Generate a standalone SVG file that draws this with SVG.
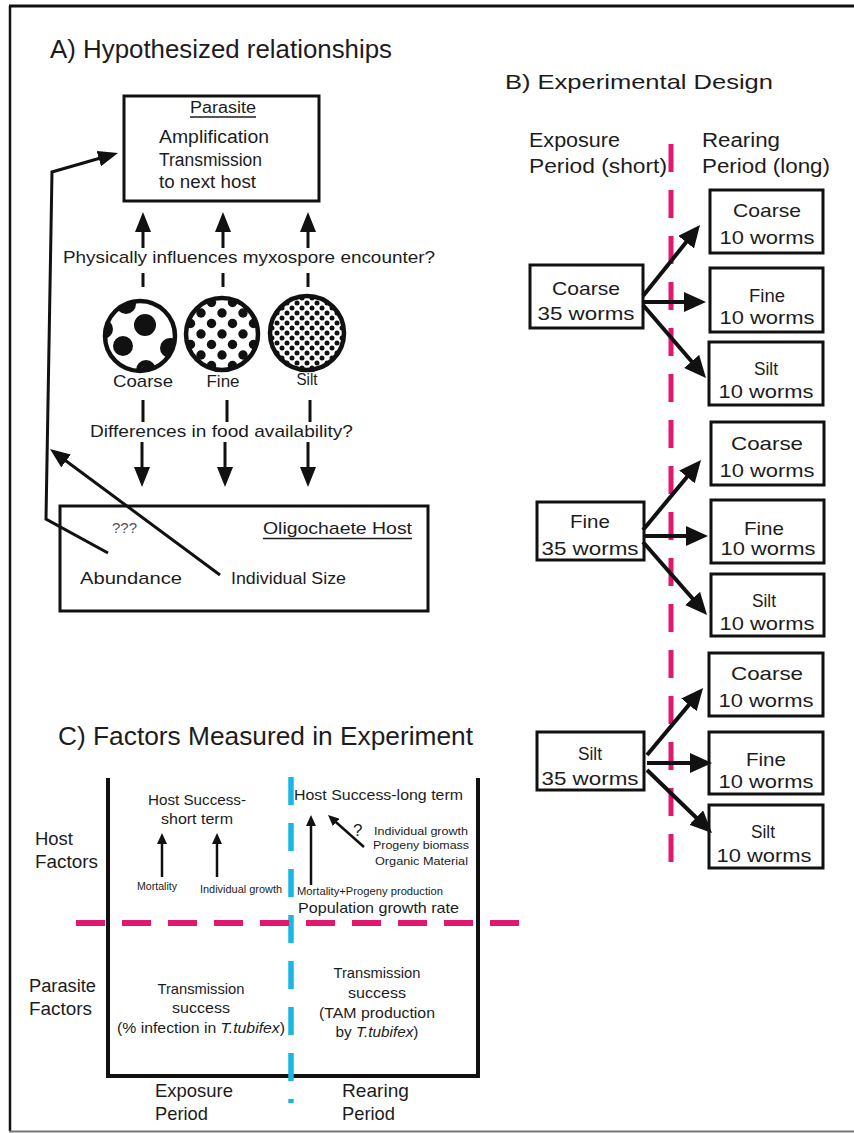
<svg xmlns="http://www.w3.org/2000/svg" width="854" height="1133" viewBox="0 0 854 1133">
<style>
.t{font-family:"Liberation Sans",Arial,sans-serif;fill:#1c1c1c}
.m{text-anchor:middle}
.box{fill:#fff;stroke:#111;stroke-width:3}
.a3{stroke:#111;stroke-width:3;fill:none}
.a4{stroke:#111;stroke-width:4;fill:none}
.a2{stroke:#111;stroke-width:2.5;fill:none}
.ul{stroke:#1c1c1c;stroke-width:1.5}
</style>
<defs>
<marker id="hA" markerUnits="userSpaceOnUse" markerWidth="20" markerHeight="16" refX="10" refY="8" orient="auto"><path d="M0,0 L20,8 L0,16 z" fill="#111"/></marker>
<marker id="hB" markerUnits="userSpaceOnUse" markerWidth="22" markerHeight="20" refX="11" refY="10" orient="auto"><path d="M0,0 L22,10 L0,20 z" fill="#111"/></marker>
<marker id="hC" markerUnits="userSpaceOnUse" markerWidth="11" markerHeight="10" refX="5.5" refY="5" orient="auto"><path d="M0,0 L11,5 L0,10 z" fill="#111"/></marker>
<pattern id="pFine" patternUnits="userSpaceOnUse" x="222" y="334" width="21" height="21"><circle cx="0" cy="0" r="4.7" fill="#111"/><circle cx="21" cy="0" r="4.7" fill="#111"/><circle cx="0" cy="21" r="4.7" fill="#111"/><circle cx="21" cy="21" r="4.7" fill="#111"/><circle cx="10.5" cy="10.5" r="4.7" fill="#111"/></pattern>
<pattern id="pSilt" patternUnits="userSpaceOnUse" x="307" y="333" width="10" height="10"><circle cx="0" cy="0" r="2.5" fill="#111"/><circle cx="10" cy="0" r="2.5" fill="#111"/><circle cx="0" cy="10" r="2.5" fill="#111"/><circle cx="10" cy="10" r="2.5" fill="#111"/><circle cx="5" cy="5" r="2.5" fill="#111"/></pattern>
<clipPath id="cCoarse"><circle cx="140" cy="336" r="35"/></clipPath>
</defs>

<g id="frame">
<line x1="9" y1="6" x2="854" y2="6" stroke="#111" stroke-width="3"/>
<line x1="10" y1="6" x2="10" y2="1131" stroke="#111" stroke-width="2.5"/>
<line x1="9" y1="1131.5" x2="854" y2="1131.5" stroke="#777" stroke-width="2"/>
</g>

<!-- Panel A -->
<g id="titleA"><text class="t" x="50" y="58" font-size="26" textLength="342" lengthAdjust="spacingAndGlyphs">A) Hypothesized relationships</text></g>

<g id="parasite">
<rect class="box" x="124" y="96" width="195" height="105"/>
<text class="t m" x="223" y="113" font-size="16" textLength="66" lengthAdjust="spacingAndGlyphs">Parasite</text>
<line class="ul" x1="190" y1="117" x2="256" y2="117"/>
<text class="t" x="159" y="143" font-size="18" textLength="110" lengthAdjust="spacingAndGlyphs">Amplification</text>
<text class="t" x="159" y="166" font-size="18" textLength="103" lengthAdjust="spacingAndGlyphs">Transmission</text>
<text class="t" x="159" y="188" font-size="18" textLength="97" lengthAdjust="spacingAndGlyphs">to next host</text>
</g>

<g id="q1"><text class="t" x="63" y="263" font-size="17" textLength="372" lengthAdjust="spacingAndGlyphs">Physically influences myxospore encounter?</text></g>

<g id="coarse">
<g clip-path="url(#cCoarse)" fill="#111">
<circle cx="145" cy="325" r="11"/>
<circle cx="123" cy="346" r="10"/>
<circle cx="170" cy="348" r="10"/>
<circle cx="146" cy="370" r="10"/>
<circle cx="126" cy="304" r="10"/>
<circle cx="103" cy="329" r="10"/>
<circle cx="167" cy="304" r="6"/>
</g>
<circle cx="140" cy="336" r="35" fill="none" stroke="#111" stroke-width="4.5"/>
<text class="t m" x="143" y="387" font-size="17" textLength="60" lengthAdjust="spacingAndGlyphs">Coarse</text>
</g>

<g id="fine">
<circle cx="222" cy="334" r="36" fill="url(#pFine)" stroke="#111" stroke-width="4.5"/>
<text class="t m" x="223" y="387" font-size="17" textLength="33" lengthAdjust="spacingAndGlyphs">Fine</text>
</g>

<g id="silt">
<circle cx="307" cy="333" r="37" fill="url(#pSilt)" stroke="#111" stroke-width="4.5"/>
<text class="t m" x="307" y="385" font-size="17" textLength="21" lengthAdjust="spacingAndGlyphs">Silt</text>
</g>

<g id="q2"><text class="t" x="90" y="437" font-size="17" textLength="263" lengthAdjust="spacingAndGlyphs">Differences in food availability?</text></g>

<g id="host">
<rect class="box" x="60" y="506" width="368" height="105"/>
<text class="t" x="112" y="533" font-size="14" fill="#555" style="fill:#555" textLength="25" lengthAdjust="spacingAndGlyphs">???</text>
<text class="t" x="263" y="534" font-size="17" textLength="149" lengthAdjust="spacingAndGlyphs">Oligochaete Host</text>
<line class="ul" x1="263" y1="538.5" x2="412" y2="538.5"/>
<text class="t" x="80" y="584" font-size="17" textLength="102" lengthAdjust="spacingAndGlyphs">Abundance</text>
<text class="t" x="231" y="584" font-size="17" textLength="115" lengthAdjust="spacingAndGlyphs">Individual Size</text>
</g>

<g id="connectorsA">
<line class="a3" x1="143" y1="248" x2="143" y2="222" marker-end="url(#hA)"/>
<line class="a3" x1="223" y1="248" x2="223" y2="222" marker-end="url(#hA)"/>
<line class="a3" x1="308" y1="248" x2="308" y2="222" marker-end="url(#hA)"/>
<line class="a3" x1="143" y1="273" x2="143" y2="287"/>
<line class="a3" x1="223" y1="273" x2="223" y2="287"/>
<line class="a3" x1="308" y1="273" x2="308" y2="287"/>
<line class="a3" x1="143" y1="400" x2="143" y2="422"/>
<line class="a3" x1="227" y1="400" x2="227" y2="422"/>
<line class="a3" x1="310" y1="400" x2="310" y2="422"/>
<line class="a3" x1="142" y1="442" x2="142" y2="477" marker-end="url(#hA)"/>
<line class="a3" x1="225" y1="442" x2="225" y2="477" marker-end="url(#hA)"/>
<line class="a3" x1="308" y1="442" x2="308" y2="477" marker-end="url(#hA)"/>
<polyline class="a3" points="108,553 46,519 52,172 108.4,155.8" marker-end="url(#hA)"/>
<line class="a3" x1="220" y1="575" x2="58" y2="455" marker-end="url(#hA)"/>
</g>

<!-- Panel B -->
<g id="titleB">
<text class="t" x="505" y="89" font-size="21" textLength="268" lengthAdjust="spacingAndGlyphs">B) Experimental Design</text>
<text class="t" x="529" y="147" font-size="20" textLength="91" lengthAdjust="spacingAndGlyphs">Exposure</text>
<text class="t" x="529" y="173" font-size="20" textLength="138" lengthAdjust="spacingAndGlyphs">Period (short)</text>
<text class="t" x="702" y="147" font-size="20" textLength="78" lengthAdjust="spacingAndGlyphs">Rearing</text>
<text class="t" x="702" y="173" font-size="20" textLength="128" lengthAdjust="spacingAndGlyphs">Period (long)</text>
</g>

<g id="dividerB"><line x1="671" y1="144" x2="671" y2="862" stroke="#e0186e" stroke-width="5" stroke-dasharray="28 18"/></g>

<g id="expCoarse">
<rect class="box" x="530" y="265" width="113" height="63"/>
<text class="t m" x="586" y="295" font-size="19" textLength="68" lengthAdjust="spacingAndGlyphs">Coarse</text>
<text class="t m" x="586" y="320" font-size="19" textLength="97" lengthAdjust="spacingAndGlyphs">35 worms</text>
</g>
<g id="expFine">
<rect class="box" x="537" y="502" width="107" height="58"/>
<text class="t m" x="590" y="528" font-size="19" textLength="40" lengthAdjust="spacingAndGlyphs">Fine</text>
<text class="t m" x="590" y="555" font-size="19" textLength="97" lengthAdjust="spacingAndGlyphs">35 worms</text>
</g>
<g id="expSilt">
<rect class="box" x="537" y="732" width="107" height="58"/>
<text class="t m" x="590" y="760" font-size="19" textLength="24" lengthAdjust="spacingAndGlyphs">Silt</text>
<text class="t m" x="590" y="785" font-size="19" textLength="97" lengthAdjust="spacingAndGlyphs">35 worms</text>
</g>

<g id="rC1"><rect class="box" x="710" y="190" width="113" height="63"/><text class="t m" x="767" y="217" font-size="19" textLength="68" lengthAdjust="spacingAndGlyphs">Coarse</text><text class="t m" x="767" y="244" font-size="19" textLength="95" lengthAdjust="spacingAndGlyphs">10 worms</text></g>
<g id="rF1"><rect class="box" x="710" y="268" width="113" height="64"/><text class="t m" x="767" y="302" font-size="19" textLength="36" lengthAdjust="spacingAndGlyphs">Fine</text><text class="t m" x="767" y="324" font-size="19" textLength="95" lengthAdjust="spacingAndGlyphs">10 worms</text></g>
<g id="rS1"><rect class="box" x="709" y="342" width="114" height="63"/><text class="t m" x="766" y="375" font-size="19" textLength="24" lengthAdjust="spacingAndGlyphs">Silt</text><text class="t m" x="766" y="398" font-size="19" textLength="95" lengthAdjust="spacingAndGlyphs">10 worms</text></g>
<g id="rC2"><rect class="box" x="711" y="422" width="113" height="63"/><text class="t m" x="767" y="450" font-size="19" textLength="72" lengthAdjust="spacingAndGlyphs">Coarse</text><text class="t m" x="767" y="477" font-size="19" textLength="95" lengthAdjust="spacingAndGlyphs">10 worms</text></g>
<g id="rF2"><rect class="box" x="711" y="500" width="113" height="63"/><text class="t m" x="764" y="535" font-size="19" textLength="40" lengthAdjust="spacingAndGlyphs">Fine</text><text class="t m" x="768" y="555" font-size="19" textLength="95" lengthAdjust="spacingAndGlyphs">10 worms</text></g>
<g id="rS2"><rect class="box" x="711" y="574" width="113" height="62"/><text class="t m" x="764" y="607" font-size="19" textLength="24" lengthAdjust="spacingAndGlyphs">Silt</text><text class="t m" x="767" y="630" font-size="19" textLength="95" lengthAdjust="spacingAndGlyphs">10 worms</text></g>
<g id="rC3"><rect class="box" x="709" y="653" width="114" height="63"/><text class="t m" x="767" y="680" font-size="19" textLength="72" lengthAdjust="spacingAndGlyphs">Coarse</text><text class="t m" x="766" y="707" font-size="19" textLength="95" lengthAdjust="spacingAndGlyphs">10 worms</text></g>
<g id="rF3"><rect class="box" x="709" y="732" width="114" height="62"/><text class="t m" x="766" y="766" font-size="19" textLength="40" lengthAdjust="spacingAndGlyphs">Fine</text><text class="t m" x="766" y="788" font-size="19" textLength="95" lengthAdjust="spacingAndGlyphs">10 worms</text></g>
<g id="rS3"><rect class="box" x="709" y="805" width="114" height="63"/><text class="t m" x="763" y="838" font-size="19" textLength="24" lengthAdjust="spacingAndGlyphs">Silt</text><text class="t m" x="764" y="862" font-size="19" textLength="95" lengthAdjust="spacingAndGlyphs">10 worms</text></g>

<g id="connectorsB">
<line class="a4" x1="643" y1="296" x2="693.1" y2="233.6" marker-end="url(#hB)"/>
<line class="a4" x1="643" y1="302" x2="695" y2="302" marker-end="url(#hB)"/>
<line class="a4" x1="643" y1="305" x2="698.8" y2="369.7" marker-end="url(#hB)"/>
<line class="a4" x1="643" y1="530" x2="694" y2="468.5" marker-end="url(#hB)"/>
<line class="a4" x1="643" y1="536" x2="697" y2="536" marker-end="url(#hB)"/>
<line class="a4" x1="643" y1="542" x2="699.8" y2="606.7" marker-end="url(#hB)"/>
<line class="a4" x1="647" y1="755" x2="696" y2="696.4" marker-end="url(#hB)"/>
<line class="a4" x1="647" y1="763" x2="701" y2="763" marker-end="url(#hB)"/>
<line class="a4" x1="647" y1="770" x2="704.1" y2="825.3" marker-end="url(#hB)"/>
</g>

<!-- Panel C -->
<g id="titleC"><text class="t" x="58" y="745" font-size="25" textLength="415" lengthAdjust="spacingAndGlyphs">C) Factors Measured in Experiment</text></g>

<g id="frameC"><path d="M108,778 V1076 H478 V778" fill="none" stroke="#111" stroke-width="4"/></g>

<g id="dividersC">
<line x1="291" y1="777" x2="291" y2="1103" stroke="#1ab6e4" stroke-width="5.5" stroke-dasharray="28 18"/>
<line x1="76" y1="923" x2="520" y2="923" stroke="#e0186e" stroke-width="6" stroke-dasharray="29 17"/>
</g>

<g id="hostFactors">
<text class="t" x="35" y="845" font-size="18" textLength="38" lengthAdjust="spacingAndGlyphs">Host</text>
<text class="t" x="35" y="868" font-size="18" textLength="63" lengthAdjust="spacingAndGlyphs">Factors</text>
</g>
<g id="parasiteFactors">
<text class="t" x="29" y="992" font-size="18" textLength="67" lengthAdjust="spacingAndGlyphs">Parasite</text>
<text class="t" x="29" y="1015" font-size="18" textLength="63" lengthAdjust="spacingAndGlyphs">Factors</text>
</g>

<g id="hostShort">
<text class="t m" x="197" y="805" font-size="15" textLength="98" lengthAdjust="spacingAndGlyphs">Host Success-</text>
<text class="t m" x="197" y="824" font-size="15" textLength="72" lengthAdjust="spacingAndGlyphs">short term</text>
<text class="t" x="137" y="890" font-size="10" textLength="40" lengthAdjust="spacingAndGlyphs">Mortality</text>
<text class="t" x="200" y="893" font-size="10" textLength="82" lengthAdjust="spacingAndGlyphs">Individual growth</text>
</g>

<g id="hostLong">
<text class="t" x="294" y="800" font-size="15" textLength="169" lengthAdjust="spacingAndGlyphs">Host Success-long term</text>
<text class="t" x="353" y="836" font-size="17">?</text>
<text class="t" x="374" y="835" font-size="11" textLength="94" lengthAdjust="spacingAndGlyphs">Individual growth</text>
<text class="t" x="373" y="849" font-size="11" textLength="96" lengthAdjust="spacingAndGlyphs">Progeny biomass</text>
<text class="t" x="375" y="865" font-size="11" textLength="93" lengthAdjust="spacingAndGlyphs">Organic Material</text>
<text class="t" x="297" y="895" font-size="10" textLength="146" lengthAdjust="spacingAndGlyphs">Mortality+Progeny production</text>
<text class="t" x="298" y="913" font-size="15" textLength="161" lengthAdjust="spacingAndGlyphs">Population growth rate</text>
</g>

<g id="transShort">
<text class="t m" x="201" y="994" font-size="15" textLength="87" lengthAdjust="spacingAndGlyphs">Transmission</text>
<text class="t m" x="201" y="1013" font-size="15" textLength="58" lengthAdjust="spacingAndGlyphs">success</text>
<text class="t" x="117" y="1033" font-size="15" textLength="168" lengthAdjust="spacingAndGlyphs">(% infection in <tspan font-style="italic">T.tubifex</tspan>)</text>
</g>

<g id="transLong">
<text class="t m" x="377" y="978" font-size="15" textLength="87" lengthAdjust="spacingAndGlyphs">Transmission</text>
<text class="t m" x="377" y="998" font-size="15" textLength="58" lengthAdjust="spacingAndGlyphs">success</text>
<text class="t m" x="377" y="1018" font-size="15" textLength="116" lengthAdjust="spacingAndGlyphs">(TAM production</text>
<text class="t m" x="377" y="1037" font-size="15" textLength="83" lengthAdjust="spacingAndGlyphs">by <tspan font-style="italic">T.tubifex</tspan>)</text>
</g>

<g id="periods">
<text class="t" x="155" y="1097" font-size="19" textLength="78" lengthAdjust="spacingAndGlyphs">Exposure</text>
<text class="t" x="155" y="1120" font-size="19" textLength="53" lengthAdjust="spacingAndGlyphs">Period</text>
<text class="t" x="342" y="1097" font-size="19" textLength="67" lengthAdjust="spacingAndGlyphs">Rearing</text>
<text class="t" x="342" y="1120" font-size="19" textLength="53" lengthAdjust="spacingAndGlyphs">Period</text>
</g>

<g id="connectorsC">
<line class="a2" x1="162" y1="877" x2="162" y2="838.5" marker-end="url(#hC)"/>
<line class="a2" x1="217" y1="877" x2="217" y2="838.5" marker-end="url(#hC)"/>
<line class="a2" x1="311" y1="885" x2="311" y2="820.5" marker-end="url(#hC)"/>
<line class="a2" x1="364" y1="847" x2="332.1" y2="818.7" marker-end="url(#hC)"/>
</g>
</svg>
